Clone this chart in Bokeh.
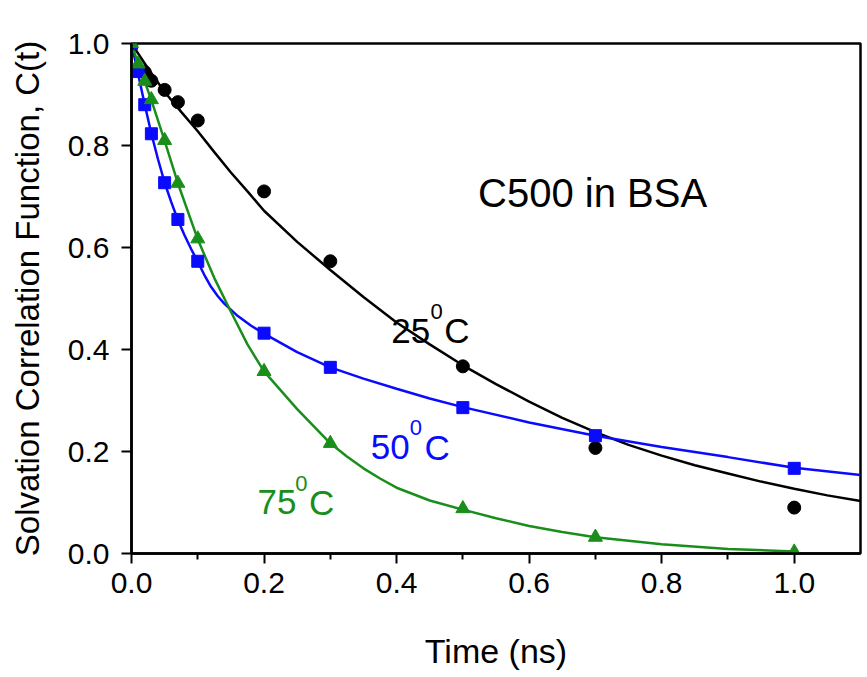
from bokeh.plotting import figure
from bokeh.models import Label, FixedTicker, Range1d, PrintfTickFormatter
from bokeh.embed import file_html
from bokeh.resources import INLINE

# ---- measured data points ----
t_25 = [0.0, 0.02, 0.03, 0.05, 0.07, 0.1, 0.2, 0.3, 0.5, 0.7, 1.0]
c_25 = [1.0, 0.944, 0.927, 0.909, 0.885, 0.849, 0.71, 0.573, 0.367, 0.207, 0.09]

t_50 = [0.0, 0.01, 0.02, 0.03, 0.05, 0.07, 0.1, 0.2, 0.3, 0.5, 0.7, 1.0]
c_50 = [1.0, 0.945, 0.88, 0.823, 0.727, 0.655, 0.573, 0.432, 0.365, 0.286, 0.231, 0.167]

t_75 = [0.0, 0.01, 0.02, 0.03, 0.05, 0.07, 0.1, 0.2, 0.3, 0.5, 0.7, 1.0]
c_75 = [1.0, 0.96, 0.926, 0.89, 0.81, 0.726, 0.617, 0.357, 0.216, 0.088, 0.032, 0.003]

# ---- fitted curves ----
fit_t_25 = [0.0, 0.025, 0.05, 0.075, 0.1, 0.125, 0.15, 0.177, 0.2, 0.25, 0.3, 0.35, 0.4, 0.45,
            0.5, 0.55, 0.6, 0.65, 0.7, 0.75, 0.8, 0.85, 0.9, 0.95, 1.0, 1.05, 1.1]
fit_c_25 = [1.0, 0.951, 0.905, 0.866, 0.828, 0.787, 0.747, 0.707, 0.672, 0.611, 0.556, 0.503, 0.453, 0.41,
            0.369, 0.332, 0.298, 0.266, 0.238, 0.213, 0.192, 0.173, 0.157, 0.141, 0.127, 0.114, 0.103]

fit_t_50 = [0.0, 0.01, 0.02, 0.03, 0.04, 0.05, 0.06, 0.07, 0.08, 0.09, 0.1, 0.11, 0.12, 0.13, 0.14,
            0.16, 0.18, 0.2, 0.25, 0.3, 0.35, 0.4, 0.45, 0.5, 0.6, 0.7, 0.8, 0.9, 1.0, 1.1]
fit_c_50 = [1.0, 0.94, 0.88, 0.823, 0.773, 0.727, 0.689, 0.654, 0.624, 0.597, 0.572, 0.546, 0.523, 0.505, 0.49,
            0.466, 0.447, 0.431, 0.395, 0.365, 0.343, 0.323, 0.304, 0.287, 0.257, 0.231, 0.209, 0.189, 0.168, 0.154]

fit_t_75 = [0.0, 0.01, 0.02, 0.03, 0.05, 0.07, 0.1, 0.125, 0.15, 0.175, 0.2, 0.25, 0.3, 0.325, 0.35, 0.375, 0.4,
            0.45, 0.5, 0.55, 0.6, 0.65, 0.7, 0.8, 0.9, 1.0]
fit_c_75 = [1.0, 0.96, 0.925, 0.889, 0.809, 0.726, 0.616, 0.54, 0.474, 0.41, 0.357, 0.283, 0.216, 0.19, 0.167, 0.147, 0.129,
            0.104, 0.086, 0.069, 0.054, 0.042, 0.032, 0.018, 0.009, 0.004]

x_ticks = [0.0, 0.2, 0.4, 0.6, 0.8, 1.0]
x_minor = [0.1, 0.3, 0.5, 0.7, 0.9]
y_ticks = [0.0, 0.2, 0.4, 0.6, 0.8, 1.0]

BLACK = "#000000"
BLUE = "#0a0aff"
GREEN = "#1a8e1a"
FONT = "Liberation Sans"

p = figure(width=866, height=676, x_range=Range1d(0, 1.1), y_range=Range1d(0, 1.0),
           output_backend="svg", toolbar_location=None,
           min_border_left=131, min_border_right=6, min_border_top=43, min_border_bottom=123)

p.xgrid.visible = False
p.ygrid.visible = False
p.outline_line_color = "black"
p.outline_line_width = 2.5
p.background_fill_color = "white"
p.border_fill_color = "white"

for ax in (p.xaxis[0], p.yaxis[0]):
    ax.axis_line_width = 2.5
    ax.axis_line_color = "black"
    ax.major_tick_line_width = 2
    ax.minor_tick_line_width = 2
    ax.major_tick_in = 0
    ax.major_tick_out = 10
    ax.minor_tick_in = 0
    ax.minor_tick_out = 6
    ax.major_label_text_font = FONT
    ax.major_label_text_font_size = "30px"
    ax.major_label_text_color = "black"
    ax.axis_label_text_font = FONT
    ax.axis_label_text_font_style = "normal"
    ax.axis_label_text_color = "black"
    ax.formatter = PrintfTickFormatter(format="%.1f")

p.xaxis.axis_label_text_font_size = "34px"
p.yaxis.axis_label_text_font_size = "33px"
p.xaxis.ticker = FixedTicker(ticks=x_ticks, minor_ticks=x_minor)
p.yaxis.ticker = FixedTicker(ticks=y_ticks, minor_ticks=[])
p.xaxis.axis_label = "Time (ns)"
p.yaxis.axis_label = "Solvation Correlation Function, C(t)"
p.xaxis.major_label_standoff = 9
p.yaxis.major_label_standoff = 12
p.xaxis.axis_label_standoff = 36
p.yaxis.axis_label_standoff = 19

# curves
p.line(fit_t_25, fit_c_25, line_color=BLACK, line_width=2.5)
p.line(fit_t_50, fit_c_50, line_color=BLUE, line_width=2.5)
p.line(fit_t_75, fit_c_75, line_color=GREEN, line_width=2.5)

# points
p.scatter(t_25, c_25, marker="circle", size=13, fill_color=BLACK, line_color=BLACK)
p.scatter(t_50, c_50, marker="square", size=12, fill_color=BLUE, line_color=BLUE)
p.scatter(t_75, c_75, marker="triangle", size=14, fill_color=GREEN, line_color=GREEN)

# text labels: (x, y, text, size, color)
labels = [
    (0.523, 0.706, "C500 in BSA", "40px", BLACK),
    (0.392, 0.437, "25", "35px", BLACK),
    (0.451, 0.474, "0", "22px", BLACK),
    (0.472, 0.437, "C", "35px", BLACK),
    (0.361, 0.2085, "50", "35px", BLUE),
    (0.420, 0.2477, "0", "22px", BLUE),
    (0.442, 0.2085, "C", "35px", BLUE),
    (0.190, 0.1006, "75", "35px", GREEN),
    (0.247, 0.1367, "0", "22px", GREEN),
    (0.268, 0.1006, "C", "35px", GREEN),
]
for x, y, txt, sz, col in labels:
    p.add_layout(Label(x=x, y=y, text=txt, text_font=FONT, text_font_size=sz,
                       text_color=col, text_align="left", text_baseline="alphabetic"))

open("out.html", "w").write(file_html(p, INLINE))
